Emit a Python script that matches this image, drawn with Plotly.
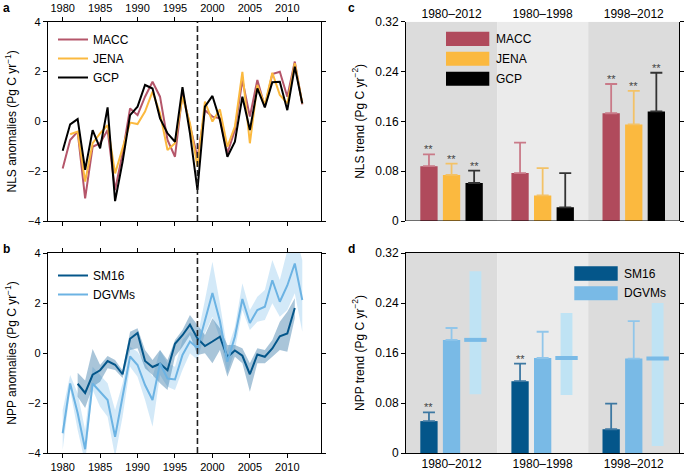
import plotly.graph_objects as go

# ---------------- data ----------------
years = list(range(1980, 2013))
years_jena = list(range(1981, 2013))
years_sm16 = list(range(1982, 2012))

macc = [-1.89, -0.75, -0.41, -3.09, -1.02, -0.88, -0.35, -2.76, -1.28, 0.52, 0.25, 0.99, 1.59, 0.99, -0.75,
        -1.42, 1.12, -0.21, -1.45, 0.45, 0.19, 0.12, -1.28, -0.35, 1.66, 0.19, 1.66, 0.59, 1.9, 1.99, 0.99, 2.4, 0.68]
jena = [-0.52, -0.41, -2.42, -0.88, -0.48, -0.15, -2.09, -1.02, -0.05, -0.11, 0.39, 1.19, 0.32, -1.15,
        -0.88, 0.99, -0.08, -1.82, 0.79, -0.01, 0.48, -1.02, -0.21, 1.99, -0.88, 1.46, 0.66, 1.95, 1.06, 0.72, 2.33, 0.72]
gcp = [-1.18, -0.12, 0.09, -1.95, -0.35, -1.08, 0.56, -3.2, -1.62, 0.25, 0.59, 1.46, 1.32, 0.12, -0.48,
       -0.82, 1.37, -0.48, -2.75, 0.59, 1.02, 0.05, -1.42, -0.82, 0.99, -0.35, 1.32, 0.56, 1.57, 1.59, 0.45, 2.19, 0.72]

sm16 = [-1.23, -1.6, -0.87, -0.69, -0.32, -0.47, -0.85, 0.57, 0.8, -0.32, -0.56, -0.43, -0.69, 0.37, 0.71,
        1.13, 0.58, 0.28, 0.46, 0.65, -0.16, 0.1, -0.11, -0.85, -0.06, -0.15, 0.18, 0.67, 0.78, 1.8]
sm16_upper = [-0.79, -1.1, 0.16, -0.48, -0.12, -0.28, -0.7, 0.85, 0.99, 0.12, -0.28, 0.12, -0.28, 0.52, 0.92,
              1.52, 1.12, 0.72, 1.39, 0.99, 0.32, 0.32, 0.19, -0.41, 0.19, 0.12, 0.52, 1.25, 1.65, 2.19]
sm16_lower = [-1.75, -2.2, -1.35, -1.15, -0.61, -0.68, -1.0, 0.12, 0.19, -0.61, -0.88, -1.21, -1.48, -0.15, 0.25,
              0.72, -0.08, -0.01, -0.41, 0.12, -0.95, -0.15, -0.41, -1.55, -0.41, -0.41, -0.15, 0.12, 0.05, 1.39]

dgvm = [-3.21, -1.22, -2.4, -3.85, -1.22, -1.55, -1.88, -3.35, -1.75, -0.14, -0.48, -1.28, -1.88, -0.42, -1.02,
        -1.06, -0.08, 0.46, 0.2, 1.35, 2.4, 1.28, -0.35, 0.65, 2.16, 1.2, 1.72, 1.85, 2.91, 2.05, 2.7, 3.58, 2.12]
dgvm_upper = [-2.28, -0.88, -1.61, -3.08, -0.55, -0.88, -1.21, -2.28, -1.21, 0.25, 0.05, -0.41, -0.95, 0.12, -0.41,
              -0.55, 0.52, 0.85, 0.65, 2.12, 3.65, 1.99, 0.12, 1.05, 2.79, 1.72, 2.25, 2.52, 3.72, 2.92, 4.1, 4.8, 3.72]
dgvm_lower = [-3.88, -1.48, -3.08, -4.4, -1.48, -2.15, -2.55, -4.15, -2.55, -0.55, -0.95, -1.88, -2.95, -0.88, -1.35,
              -1.48, -0.68, -0.01, -0.28, 0.79, 1.45, 0.59, -0.81, 0.12, 1.72, 0.92, 1.25, 1.32, 1.99, 1.45, 1.72, 2.39, 0.85]

periods = ["1980–2012", "1980–1998", "1998–2012"]

macc_trend = [0.088, 0.077, 0.173]
macc_err = [0.019, 0.049, 0.047]
jena_trend = [0.074, 0.041, 0.155]
jena_err = [0.018, 0.044, 0.054]
gcp_trend = [0.061, 0.022, 0.176]
gcp_err = [0.020, 0.055, 0.062]
nls_sig = ["**", "", "**"]

sm16_trend = [0.051, 0.115, 0.038]
sm16_err = [0.014, 0.028, 0.041]
sm16_sig = ["**", "**", ""]
dgvm_trend = [0.181, 0.152, 0.151]
dgvm_err = [0.019, 0.042, 0.060]
dgvm_min = [0.094, 0.093, 0.011]
dgvm_max = [0.291, 0.224, 0.240]

# ---------------- styles ----------------
C_MACC = "#b04a5c"
C_MACC_E = "#c97a88"
C_JENA = "#fbb93f"
C_JENA_E = "#f3c267"
C_GCP = "#000000"
C_GCP_E = "#333333"
C_SM16 = "#04568a"
C_SM16_E = "#3d78a2"
C_DGVM = "#79bae6"
C_DGVM_E = "#91c6ea"
C_RANGE = "#bfe3f4"
FONT = "Liberation Sans, Arial, Helvetica, sans-serif"

W, H = 685, 474


def px_x(v):
    return v / W


def px_y(v):
    return 1 - v / H


dom_x_left = [px_x(47.7), px_x(321)]
dom_x_right = [px_x(406), px_x(679.3)]
dom_y_top = [px_y(221), px_y(21.7)]
dom_y_bot = [px_y(453), px_y(253)]

fig = go.Figure()

# ---------- panel a ----------
fig.add_trace(go.Scatter(x=years, y=macc, mode="lines", name="MACC", line=dict(color="#b5566a", width=2),
                         xaxis="x", yaxis="y", legend="legend"))
fig.add_trace(go.Scatter(x=years_jena, y=jena, mode="lines", name="JENA", line=dict(color=C_JENA, width=2),
                         xaxis="x", yaxis="y", legend="legend"))
fig.add_trace(go.Scatter(x=years, y=gcp, mode="lines", name="GCP", line=dict(color="black", width=2),
                         xaxis="x", yaxis="y", legend="legend"))

# ---------- panel b ----------
fig.add_trace(go.Scatter(x=years, y=dgvm_lower, mode="lines", line=dict(width=0), showlegend=False,
                         xaxis="x2", yaxis="y2", hoverinfo="skip"))
fig.add_trace(go.Scatter(x=years, y=dgvm_upper, mode="lines", line=dict(width=0), fill="tonexty",
                         fillcolor="rgba(125,190,235,0.34)", showlegend=False, xaxis="x2", yaxis="y2",
                         hoverinfo="skip"))
fig.add_trace(go.Scatter(x=years_sm16, y=sm16_lower, mode="lines", line=dict(width=0), showlegend=False,
                         xaxis="x2", yaxis="y2", hoverinfo="skip"))
fig.add_trace(go.Scatter(x=years_sm16, y=sm16_upper, mode="lines", line=dict(width=0), fill="tonexty",
                         fillcolor="rgba(40,110,160,0.4)", showlegend=False, xaxis="x2", yaxis="y2",
                         hoverinfo="skip"))
fig.add_trace(go.Scatter(x=years_sm16, y=sm16, mode="lines", name="SM16", line=dict(color=C_SM16, width=2),
                         xaxis="x2", yaxis="y2", legend="legend2"))
fig.add_trace(go.Scatter(x=years, y=dgvm, mode="lines", name="DGVMs", line=dict(color="#6cb3e3", width=2),
                         xaxis="x2", yaxis="y2", legend="legend2"))

# ---------- panel c ----------
OFF = 0.248
BW = 0.19
idx = list(range(len(periods)))
for k, (vals, errs, col, ecol, name) in enumerate([
        (macc_trend, macc_err, C_MACC, C_MACC_E, "MACC"),
        (jena_trend, jena_err, C_JENA, C_JENA_E, "JENA"),
        (gcp_trend, gcp_err, C_GCP, C_GCP_E, "GCP")]):
    xs = [i + (k - 1) * OFF for i in idx]
    fig.add_trace(go.Bar(x=xs, y=vals, width=BW, marker=dict(color=col, line=dict(width=0)), name=name,
                         error_y=dict(type="data", array=errs, arrayminus=[0] * len(errs), symmetric=False,
                                      color=ecol, thickness=1.8, width=6),
                         showlegend=False, xaxis="x3", yaxis="y3"))
    for i in idx:
        if nls_sig[i]:
            fig.add_annotation(x=xs[i], y=vals[i] + errs[i], xref="x3", yref="y3", text=nls_sig[i],
                               showarrow=False, yanchor="bottom", yshift=-3,
                               font=dict(size=11, color="#444444", family=FONT))

# ---------- panel d ----------
xs_s = [i - OFF for i in idx]
xs_d = [i for i in idx]
xs_r = [i + 0.262 for i in idx]
fig.add_trace(go.Bar(x=xs_s, y=sm16_trend, width=BW, marker=dict(color=C_SM16, line=dict(width=0)), name="SM16",
                     error_y=dict(type="data", array=sm16_err, arrayminus=[0] * 3, symmetric=False,
                                  color=C_SM16_E, thickness=1.8, width=6),
                     showlegend=False, xaxis="x4", yaxis="y4"))
fig.add_trace(go.Bar(x=xs_d, y=dgvm_trend, width=BW, marker=dict(color=C_DGVM, line=dict(width=0)), name="DGVMs",
                     error_y=dict(type="data", array=dgvm_err, arrayminus=[0] * 3, symmetric=False,
                                  color=C_DGVM_E, thickness=1.8, width=6),
                     showlegend=False, xaxis="x4", yaxis="y4"))
fig.add_trace(go.Bar(x=xs_r, y=[hi - lo for hi, lo in zip(dgvm_max, dgvm_min)], base=dgvm_min, width=0.13,
                     marker=dict(color=C_RANGE, line=dict(width=0)), showlegend=False, xaxis="x4", yaxis="y4"))
fig.add_trace(go.Scatter(x=xs_r, y=dgvm_trend, mode="markers",
                         marker=dict(symbol="line-ew-open", size=16, color=C_DGVM,
                                     line=dict(color=C_DGVM, width=4)),
                         showlegend=False, xaxis="x4", yaxis="y4"))
for i in idx:
    if sm16_sig[i]:
        fig.add_annotation(x=xs_s[i], y=sm16_trend[i] + sm16_err[i], xref="x4", yref="y4", text=sm16_sig[i],
                           showarrow=False, yanchor="bottom", yshift=-3,
                           font=dict(size=11, color="#444444", family=FONT))

# ---------- shapes ----------
shapes = []
for ax in ["3", "4"]:
    for i, col in zip(idx, ["#dcdcdc", "#ebebeb", "#dcdcdc"]):
        shapes.append(dict(type="rect", xref="x" + ax, yref="y" + ax, x0=i - 0.5, x1=i + 0.5, y0=0, y1=0.32,
                           fillcolor=col, line=dict(width=0), layer="below"))
shapes.append(dict(type="line", xref="x3", yref="y3", x0=-0.5, x1=2.5, y0=0, y1=0,
                   line=dict(color="black", width=1.2), layer="above"))
for ax in ["", "2"]:
    shapes.append(dict(type="line", xref="x" + ax, yref="y" + ax, x0=1998, x1=1998, y0=-4, y1=4,
                       line=dict(color="#222222", width=1.6, dash="6px,3px"), layer="above"))

# manual legends for bar panels
leg_c = [("MACC", C_MACC, 31.7, 46), ("JENA", C_JENA, 51.7, 65.7), ("GCP", C_GCP, 71.7, 85.7)]
for name, col, y0, y1 in leg_c:
    shapes.append(dict(type="rect", xref="paper", yref="paper", x0=px_x(446), x1=px_x(489.3),
                       y0=px_y(y1), y1=px_y(y0), fillcolor=col, line=dict(width=0)))
    fig.add_annotation(x=px_x(494), y=px_y((y0 + y1) / 2), xref="paper", yref="paper", text=name,
                       showarrow=False, xanchor="left", yanchor="middle", font=dict(size=12, family=FONT))
leg_d = [("SM16", C_SM16, 266.3, 280.7), ("DGVMs", C_DGVM, 286.3, 300.3)]
for name, col, y0, y1 in leg_d:
    shapes.append(dict(type="rect", xref="paper", yref="paper", x0=px_x(574.3), x1=px_x(617.7),
                       y0=px_y(y1), y1=px_y(y0), fillcolor=col, line=dict(width=0)))
    fig.add_annotation(x=px_x(621.5), y=px_y((y0 + y1) / 2), xref="paper", yref="paper", text=name,
                       showarrow=False, xanchor="left", yanchor="middle", font=dict(size=12, family=FONT))

# panel letters
for lab, x, y in [("a", 1, 8), ("b", 1, 249), ("c", 346, 8), ("d", 346, 249)]:
    fig.add_annotation(x=px_x(x), y=px_y(y), xref="paper", yref="paper", text="<b>%s</b>" % lab,
                       showarrow=False, xanchor="left", yanchor="middle", font=dict(size=12, family=FONT))

axis_common = dict(showline=True, linecolor="black", linewidth=1, ticks="outside", ticklen=4, tickwidth=1,
                   tickcolor="black", showgrid=False, zeroline=False, color="black", automargin=False)

yr_ticks = [1980, 1985, 1990, 1995, 2000, 2005, 2010]
ttl_font = dict(size=12, family=FONT, color="black")

fig.update_layout(
    template="none",
    width=W, height=H, margin=dict(l=0, r=0, t=0, b=0, autoexpand=False),
    paper_bgcolor="white", plot_bgcolor="white",
    font=dict(family=FONT, size=11, color="black"),
    barmode="overlay",
    xaxis=dict(axis_common, domain=dom_x_left, anchor="y", range=[1978, 2014.5], tickvals=yr_ticks,
               side="top", mirror="ticks", tickfont=dict(size=11)),
    yaxis=dict(axis_common, domain=dom_y_top, anchor="x", range=[-4, 4], tickvals=[-4, -2, 0, 2, 4],
               mirror="ticks", tickfont=dict(size=11),
               title=dict(text="NLS anomalies (Pg C yr<sup>−1</sup>)", font=ttl_font, standoff=8)),
    xaxis2=dict(axis_common, domain=dom_x_left, anchor="y2", range=[1978, 2014.5], tickvals=yr_ticks,
                mirror="ticks", tickfont=dict(size=11)),
    yaxis2=dict(axis_common, domain=dom_y_bot, anchor="x2", range=[-4, 4], tickvals=[-4, -2, 0, 2, 4],
                mirror="ticks", tickfont=dict(size=11),
                title=dict(text="NPP anomalies (Pg C yr<sup>−1</sup>)", font=ttl_font, standoff=8)),
    xaxis3=dict(domain=dom_x_right, anchor="y3", range=[-0.5, 2.5], tickvals=idx, ticktext=periods,
                side="top", showline=False, ticks="", showgrid=False, zeroline=False, tickfont=dict(size=12),
                automargin=False),
    yaxis3=dict(axis_common, domain=dom_y_top, anchor="x3", range=[0, 0.32],
                tickvals=[0, 0.08, 0.16, 0.24, 0.32], ticktext=["0", "0.08", "0.16", "0.24", "0.32"],
                mirror="ticks", tickfont=dict(size=12),
                title=dict(text="NLS trend (Pg C yr<sup>−2</sup>)", font=ttl_font, standoff=8)),
    xaxis4=dict(domain=dom_x_right, anchor="y4", range=[-0.5, 2.5], tickvals=idx, ticktext=periods,
                showline=True, linecolor="black", mirror=True, ticks="", showgrid=False, zeroline=False,
                tickfont=dict(size=12), automargin=False),
    yaxis4=dict(axis_common, domain=dom_y_bot, anchor="x4", range=[0, 0.32],
                tickvals=[0, 0.08, 0.16, 0.24, 0.32], ticktext=["0", "0.08", "0.16", "0.24", "0.32"],
                mirror="ticks", tickfont=dict(size=12),
                title=dict(text="NPP trend (Pg C yr<sup>−2</sup>)", font=ttl_font, standoff=8)),
    legend=dict(x=px_x(53), y=px_y(25), xanchor="left", yanchor="top", bgcolor="rgba(0,0,0,0)",
                font=dict(size=12, family=FONT), itemwidth=30, tracegroupgap=0, traceorder="normal"),
    legend2=dict(x=px_x(53), y=px_y(261), xanchor="left", yanchor="top", bgcolor="rgba(0,0,0,0)",
                 font=dict(size=12, family=FONT), itemwidth=30, tracegroupgap=0, traceorder="normal"),
    shapes=shapes,
)

fig.write_html("out.html", config={"displayModeBar": False},
               post_script="document.body.style.margin='0';document.body.style.overflow='hidden';")
